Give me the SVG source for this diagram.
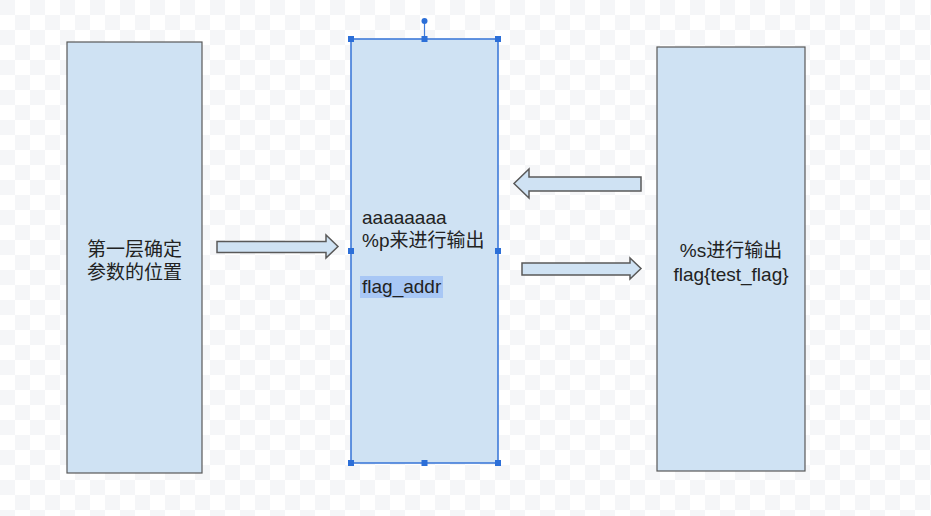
<svg xmlns="http://www.w3.org/2000/svg" width="931" height="516" viewBox="0 0 931 516">
<defs>
<pattern id="checker" width="30" height="30" patternUnits="userSpaceOnUse">
<rect width="30" height="30" fill="#ffffff"/>
<rect width="15" height="15" fill="#f5f6f8"/>
<rect x="15" y="15" width="15" height="15" fill="#f5f6f8"/>
</pattern>
<style>
.box{fill:#cfe2f3;stroke:#595959;stroke-width:1.2}
.sel{fill:#cfe2f3;stroke:#3f7bd9;stroke-width:1.6}
.arrow{fill:#cfe2f3;stroke:#595959;stroke-width:1.5;stroke-linejoin:miter}
.handle{fill:#2c6fd8}
.t{font-family:"Liberation Sans","Noto Sans CJK SC",sans-serif;font-size:19px;fill:#222222}
</style>
</defs>
<rect width="931" height="516" fill="url(#checker)"/>
<g id="node-left">
<rect class="box" x="67" y="42" width="135" height="431"/>
<text class="t" x="134.5" y="256" text-anchor="middle">第一层确定</text>
<text class="t" x="134.5" y="279" text-anchor="middle">参数的位置</text>
</g>
<g id="node-middle">
<rect class="sel" x="351" y="39" width="147" height="424"/>
<rect x="360" y="276" width="83" height="22" fill="#a8c7f5"/>
<text class="t" x="362" y="224">aaaaaaaa</text>
<text class="t" x="362" y="247">%p来进行输出</text>
<text class="t" x="362" y="293">flag_addr</text>
<line x1="424.5" y1="21" x2="424.5" y2="39" stroke="#3f7bd9" stroke-width="1.2"/>
<circle class="handle" cx="424.5" cy="21" r="3"/>
<rect class="handle" x="348" y="36" width="6" height="6"/>
<rect class="handle" x="421.5" y="36" width="6" height="6"/>
<rect class="handle" x="495" y="36" width="6" height="6"/>
<rect class="handle" x="348" y="248" width="6" height="6"/>
<rect class="handle" x="495" y="248" width="6" height="6"/>
<rect class="handle" x="348" y="460" width="6" height="6"/>
<rect class="handle" x="421.5" y="460" width="6" height="6"/>
<rect class="handle" x="495" y="460" width="6" height="6"/>
</g>
<g id="node-right">
<rect class="box" x="657" y="47" width="148" height="424"/>
<text class="t" x="731" y="257" text-anchor="middle">%s进行输出</text>
<text class="t" x="731" y="281" text-anchor="middle">flag{test_flag}</text>
</g>
<g id="connectors">
<polygon class="arrow" points="217,241.5 326,241.5 326,235 338,246.5 326,258 326,252.5 217,252.5"/>
<polygon class="arrow" points="641,177 529,177 529,169 514,183.5 529,198 529,191 641,191"/>
<polygon class="arrow" points="522,263 630,263 630,258 641,268.5 630,279 630,275 522,275"/>
</g>
</svg>
